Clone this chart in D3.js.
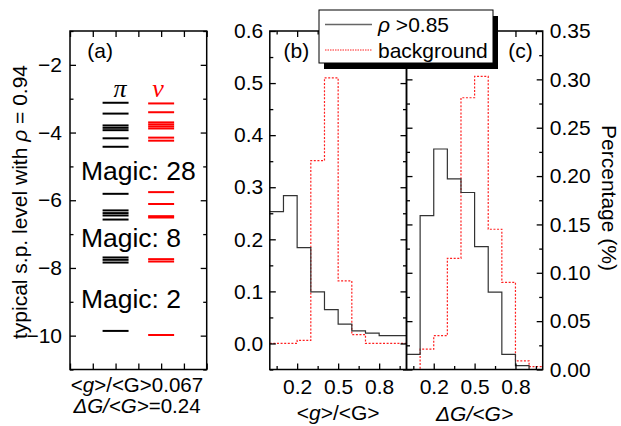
<!DOCTYPE html>
<html><head><meta charset="utf-8">
<script src="https://cdn.jsdelivr.net/npm/d3@7"></script>
<style>
body{margin:0;background:#fff;}
svg{font-family:"Liberation Sans",Arial,sans-serif;}
</style></head>
<body><svg id="c" width="621" height="426"></svg>
<script>
// ---------- data ----------
const piLevels = [-3.12,-3.44,-3.79,-3.86,-3.93,-4.17,-4.42,-5.81,-6.30,-6.38,-6.45,-6.57,-7.69,-7.76,-7.84,-9.86];
const nuLevels = [-3.14,-3.40,-3.70,-3.76,-3.82,-3.88,-4.15,-4.24,-5.76,-6.11,-6.47,-6.51,-7.74,-7.81,-9.98];
const magicLabels = ["Magic: 28","Magic: 8","Magic: 2"];
const magicAt = [-5.40,-7.37,-9.18];
const aTicks = [-2,-4,-6,-8,-10];
const aMinor = [-1,-3,-5,-7,-9,-11];

const binEdges = [0,0.1,0.2,0.3,0.4,0.5,0.6,0.7,0.8,0.9,1.0];
const gRhoHigh   = [0.253,0.284,0.184,0.099,0.065,0.037,0.024,0.020,0.015,0.015];
const gBackground= [0.0,0.0,0.006,0.351,0.510,0.120,0.017,0.0,0.0,0.0];
const dRhoHigh   = [0.0157,0.159,0.228,0.197,0.183,0.127,0.080,0.0157,0.004,0.0];
const dBackground= [0.0,0.021,0.035,0.115,0.281,0.303,0.145,0.090,0.009,0.003];

const xTicks = [0.2,0.5,0.8];
const xMinor = [0.05,0.35,0.65,0.95];
const bTicks = [0,0.1,0.2,0.3,0.4,0.5,0.6];
const bMinor = [-0.05,0.05,0.15,0.25,0.35,0.45,0.55];
const cTicks = [0,0.05,0.10,0.15,0.20,0.25,0.30,0.35];
const cMinor = [0.025,0.075,0.125,0.175,0.225,0.275,0.325];
const legendLabels = ["\u03C1 >0.85","background"];

// ---------- layout ----------
const svg = d3.select("#c");
const plotTop = 31, plotBot = 369.5;
const FS = 21;

const xA = d3.scaleLinear().domain([0,3]).range([70,206.7]);
const yA = d3.scaleLinear().domain([-11,-1]).range([plotBot,plotTop]);
const xB = d3.scaleLinear().domain([0,1]).range([269.8,406.5]);
const yB = d3.scaleLinear().domain([-0.05,0.6]).range([plotBot,plotTop]);
const xC = d3.scaleLinear().domain([0,1]).range([406.5,542.7]);
const yC = d3.scaleLinear().domain([0,0.35]).range([plotBot,plotTop]);

function styleAxis(g){
  g.select(".domain").remove();
  g.selectAll(".tick line").attr("stroke","#000").attr("stroke-width",1.3);
  g.selectAll(".tick text").attr("font-size",FS).attr("fill","#000").attr("font-family","Liberation Sans, Arial, sans-serif");
}
function frameTicks(x,y,xt,xm,yt,ym,opts){
  const x0=x.range()[0], x1=x.range()[1];
  const y0=y.range()[0], y1=y.range()[1];
  svg.append("g").attr("transform",`translate(0,${y0})`)
    .call(d3.axisBottom(x).tickValues(xt).tickSizeInner(-6).tickSizeOuter(0).tickPadding(10)
      .tickFormat(opts.xLabel? d3.format(".1f") : ""))
    .call(styleAxis);
  svg.append("g").attr("transform",`translate(0,${y0})`)
    .call(d3.axisBottom(x).tickValues(xm).tickSizeInner(-3.5).tickSizeOuter(0).tickFormat(""))
    .call(styleAxis);
  svg.append("g").attr("transform",`translate(0,${y1})`)
    .call(d3.axisTop(x).tickValues(xt).tickSizeInner(-6).tickSizeOuter(0).tickFormat(""))
    .call(styleAxis);
  svg.append("g").attr("transform",`translate(0,${y1})`)
    .call(d3.axisTop(x).tickValues(xm).tickSizeInner(-3.5).tickSizeOuter(0).tickFormat(""))
    .call(styleAxis);
  const mainLeft = opts.side==="left";
  svg.append("g").attr("transform",`translate(${x0},0)`)
    .call(d3.axisLeft(y).tickValues(yt).tickSizeInner(-6).tickSizeOuter(0).tickPadding(opts.pad||7)
      .tickFormat(mainLeft? opts.yFmt : ""))
    .call(styleAxis);
  svg.append("g").attr("transform",`translate(${x0},0)`)
    .call(d3.axisLeft(y).tickValues(ym).tickSizeInner(-3.5).tickSizeOuter(0).tickFormat(""))
    .call(styleAxis);
  svg.append("g").attr("transform",`translate(${x1},0)`)
    .call(d3.axisRight(y).tickValues(yt).tickSizeInner(-6).tickSizeOuter(0).tickPadding(opts.pad||7)
      .tickFormat(!mainLeft? opts.yFmt : ""))
    .call(styleAxis);
  svg.append("g").attr("transform",`translate(${x1},0)`)
    .call(d3.axisRight(y).tickValues(ym).tickSizeInner(-3.5).tickSizeOuter(0).tickFormat(""))
    .call(styleAxis);
}

// ---------- panel (a) ----------
const lvlHalf = 0.285;
svg.append("g").selectAll("line").data(piLevels).join("line")
  .attr("x1",xA(1-lvlHalf)).attr("x2",xA(1+lvlHalf))
  .attr("y1",d=>yA(d)).attr("y2",d=>yA(d))
  .attr("stroke","#000").attr("stroke-width",2);
svg.append("g").selectAll("line").data(nuLevels).join("line")
  .attr("x1",xA(2-lvlHalf)).attr("x2",xA(2+lvlHalf))
  .attr("y1",d=>yA(d)).attr("y2",d=>yA(d))
  .attr("stroke","#ff0000").attr("stroke-width",2);
svg.append("text").attr("x",xA(1.1)).attr("y",97).attr("text-anchor","middle")
  .attr("font-family","Liberation Serif, Times New Roman, serif").attr("font-style","italic")
  .attr("font-size",26).text("\u03C0");
svg.append("text").attr("x",xA(1.93)).attr("y",97).attr("text-anchor","middle")
  .attr("font-family","Liberation Serif, Times New Roman, serif").attr("font-style","italic")
  .attr("font-size",26).attr("fill","#ff0000").text("\u03BD");
svg.append("g").selectAll("text").data(magicLabels).join("text")
  .attr("x",xA(0.24)).attr("y",(d,i)=>yA(magicAt[i]))
  .attr("font-size",26.5).text(d=>d);

frameTicks(xA,yA,[0,0.5,1,1.5,2,2.5,3],[],aTicks,aMinor,{side:"left",yFmt:d3.format("d"),xLabel:false,pad:8});
svg.append("text").attr("x",xA(0.66)).attr("y",52).attr("dominant-baseline","middle")
  .attr("font-size",FS).attr("text-anchor","middle").text("(a)");

const la1 = svg.append("text").attr("x",xA(1.47)).attr("y",392).attr("text-anchor","middle").attr("font-size",20.5);
la1.append("tspan").text("<");
la1.append("tspan").attr("font-style","italic").text("g");
la1.append("tspan").text(">/<G>0.067");
const la2 = svg.append("text").attr("x",xA(1.47)).attr("y",413).attr("text-anchor","middle").attr("font-size",20.5);
la2.append("tspan").attr("font-style","italic").text("\u0394G/<G>");
la2.append("tspan").text("=0.24");

const lt = svg.append("text").attr("transform","translate(27,202) rotate(-90)")
  .attr("text-anchor","middle").attr("font-size",FS);
lt.append("tspan").text("typical s.p. level with ");
lt.append("tspan").attr("font-style","italic").text("\u03C1");
lt.append("tspan").text(" = 0.94");

// ---------- panels (b),(c) ----------
function stepData(vals){
  const pts = vals.map((v,i)=>[binEdges[i],v]);
  pts.push([binEdges[binEdges.length-1], vals[vals.length-1]]);
  return pts;
}
function hist(x,y,vals,color,dash){
  const line = d3.line().x(d=>x(d[0])).y(d=>y(d[1])).curve(d3.curveStepAfter);
  svg.append("path").attr("d",line(stepData(vals))).attr("fill","none")
    .attr("stroke",color).attr("stroke-width",1.2)
    .attr("stroke-dasharray",dash||null);
}
hist(xB,yB,gBackground,"#ff2020","2,1.6");
hist(xB,yB,gRhoHigh,"#333333");
hist(xC,yC,dBackground,"#ff2020","2,1.6");
hist(xC,yC,dRhoHigh,"#333333");

frameTicks(xB,yB,xTicks,xMinor,bTicks,bMinor,{side:"left",yFmt:d3.format(".1f"),xLabel:true,pad:6.5});
frameTicks(xC,yC,xTicks,xMinor,cTicks,cMinor,{side:"right",yFmt:d3.format(".2f"),xLabel:true,pad:7});

[[xA,yA],[xB,yB],[xC,yC]].forEach(([x,y])=>{
  svg.append("rect").attr("x",x.range()[0]).attr("y",y.range()[1])
    .attr("width",x.range()[1]-x.range()[0]).attr("height",y.range()[0]-y.range()[1])
    .attr("fill","none").attr("stroke","#000").attr("stroke-width",1.5);
});

svg.append("text").attr("x",xB(0.195)).attr("y",52).attr("dominant-baseline","middle")
  .attr("font-size",FS).attr("text-anchor","middle").text("(b)");
svg.append("text").attr("x",xC(0.837)).attr("y",52).attr("dominant-baseline","middle")
  .attr("font-size",FS).attr("text-anchor","middle").text("(c)");

const xb = svg.append("text").attr("x",xB(0.5)).attr("y",420).attr("text-anchor","middle").attr("font-size",FS);
xb.append("tspan").text("<");
xb.append("tspan").attr("font-style","italic").text("g");
xb.append("tspan").text(">/<G>");
svg.append("text").attr("x",xC(0.5)).attr("y",421).attr("text-anchor","middle").attr("font-size",FS)
  .attr("font-style","italic").text("\u0394G/<G>");

svg.append("text").attr("transform","translate(602,198) rotate(90)")
  .attr("text-anchor","middle").attr("font-size",FS).text("Percentage (%)");

// ---------- legend ----------
const lg = svg.append("g");
lg.append("rect").attr("x",324).attr("y",16).attr("width",174).attr("height",53).attr("fill","#000");
lg.append("rect").attr("x",319).attr("y",10).attr("width",174).attr("height",53)
  .attr("fill","#fff").attr("stroke","#000").attr("stroke-width",1);
lg.append("line").attr("x1",325).attr("x2",372).attr("y1",24.5).attr("y2",24.5)
  .attr("stroke","#666").attr("stroke-width",1.5);
lg.append("line").attr("x1",325).attr("x2",372).attr("y1",50).attr("y2",50)
  .attr("stroke","#ff2020").attr("stroke-width",1).attr("stroke-dasharray","1.5,1");
const l1 = lg.append("text").attr("x",378).attr("y",32).attr("font-size",FS);
l1.append("tspan").attr("font-style","italic").text(legendLabels[0].slice(0,1));
l1.append("tspan").text(legendLabels[0].slice(1));
lg.append("text").attr("x",378).attr("y",58).attr("font-size",FS).text(legendLabels[1]);
</script></body></html>
